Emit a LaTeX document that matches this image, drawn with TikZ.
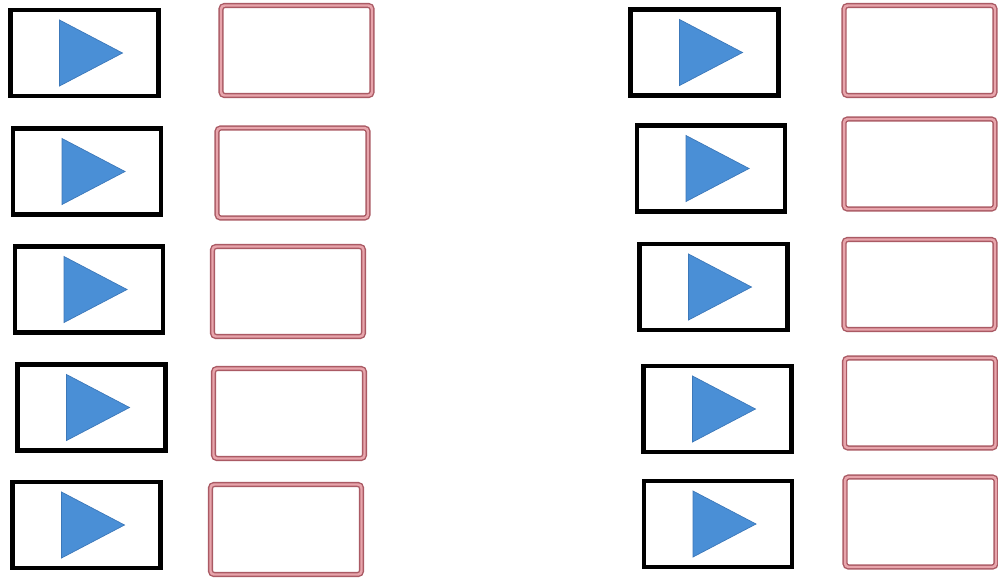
\documentclass[tikz,border=0pt]{standalone}
\usepackage{tikz}
\usetikzlibrary{positioning}
\definecolor{playblue}{RGB}{74,143,214}
\definecolor{playedge}{RGB}{60,120,185}
\definecolor{slotedge}{RGB}{170,90,100}
\definecolor{slotpink}{RGB}{232,165,172}
\begin{document}
\begin{tikzpicture}[
  x=0.02cm,y=-0.02cm,
  playbox/.style={draw=black,line width=2.8pt,minimum width=2.96cm,
                  minimum height=1.72cm,inner sep=0pt},
  slot/.style={draw=slotedge,double=slotpink,double distance=1.4pt,
               line width=0.8pt,rounded corners=2pt,minimum width=3.02cm,
               minimum height=1.8cm,inner sep=0pt},
  play/.style={fill=playblue,draw=playedge,line width=0.4pt}
]
  \useasboundingbox (0,0) rectangle (998,579);
  % left column
  \node[playbox] (lb1) at (84.5,53) {};
  \node[playbox] (lb2) at (87,171.5) {};
  \node[playbox] (lb3) at (89,289.5) {};
  \node[playbox] (lb4) at (91.5,407.5) {};
  \node[playbox] (lb5) at (86.5,525) {};
  \node[slot] (ls1) at (296.5,50.5) {};
  \node[slot] (ls2) at (292.5,173) {};
  \node[slot] (ls3) at (288,291.5) {};
  \node[slot] (ls4) at (289,413.5) {};
  \node[slot] (ls5) at (286,529.5) {};
  % right column
  \node[playbox] (rb1) at (704.5,52.5) {};
  \node[playbox] (rb2) at (711,168.5) {};
  \node[playbox] (rb3) at (713.5,287) {};
  \node[playbox] (rb4) at (717.5,409) {};
  \node[playbox] (rb5) at (718,524) {};
  \node[slot] (rs1) at (919.5,50.5) {};
  \node[slot] (rs2) at (919.5,164) {};
  \node[slot] (rs3) at (919.5,284.5) {};
  \node[slot] (rs4) at (920,403) {};
  \node[slot] (rs5) at (920.5,522) {};
  % play triangles
  \foreach \b in {lb1,lb2,lb3,lb4,lb5,rb1,rb2,rb3,rb4,rb5}
    \draw[play] ([shift={(-25,-33)}]\b.center) -- ++(0,66) -- ++(63,-33) -- cycle;
\end{tikzpicture}
\end{document}
